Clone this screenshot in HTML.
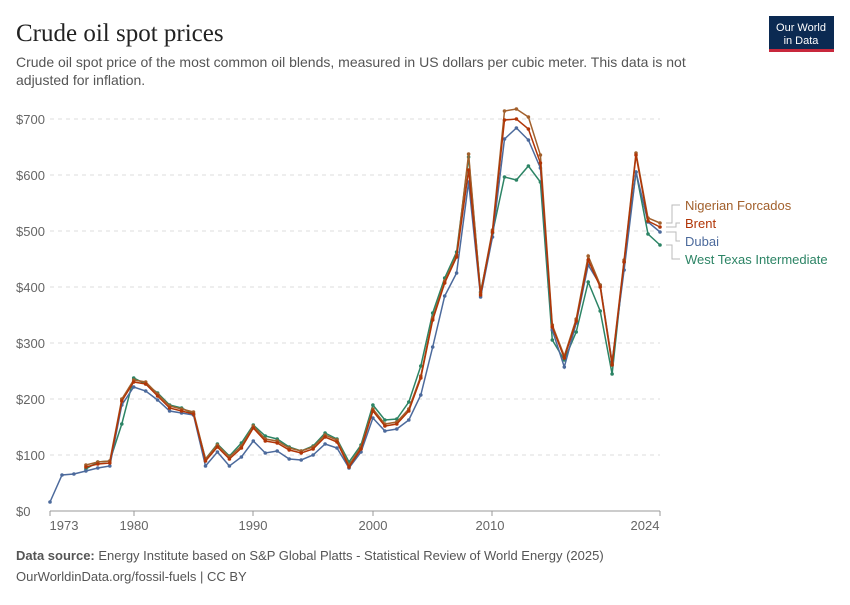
<!DOCTYPE html><html><head><style>
body{margin:0;width:850px;height:600px;background:#fff;font-family:"Liberation Sans",sans-serif;overflow:hidden}
</style></head><body>
<svg width="850" height="600" xmlns="http://www.w3.org/2000/svg" id="s">
<text x="16" y="41" font-family="Liberation Serif" font-size="25" fill="#222">Crude oil spot prices</text>
<text x="16" y="67" font-size="14" fill="#555">Crude oil spot price of the most common oil blends, measured in US dollars per cubic meter. This data is not</text>
<text x="16" y="85" font-size="14" fill="#555">adjusted for inflation.</text>
<rect x="769" y="16" width="65" height="36" fill="#0b2a52"/><rect x="769" y="49" width="65" height="3" fill="#c8283c"/>
<text x="801" y="31" font-size="11" fill="#fff" text-anchor="middle">Our World</text>
<text x="801" y="44" font-size="11" fill="#fff" text-anchor="middle">in Data</text>
<g id="grid" font-size="13" fill="#666"></g>
<line x1="50" y1="511" x2="660" y2="511" stroke="#999"/>
<g stroke="#999"><line x1="50" x2="50" y1="511" y2="516"/><line x1="134" x2="134" y1="511" y2="516"/><line x1="253" x2="253" y1="511" y2="516"/><line x1="373" x2="373" y1="511" y2="516"/><line x1="492" x2="492" y1="511" y2="516"/><line x1="660" x2="660" y1="511" y2="516"/></g>
<g font-size="13" fill="#666" text-anchor="middle">
<text x="64" y="530">1973</text><text x="134" y="530">1980</text><text x="253" y="530">1990</text><text x="373" y="530">2000</text><text x="490" y="530">2010</text><text x="645" y="530">2024</text></g>
<g id="lines"></g>
<g font-size="13">
<text x="685" y="210" fill="#a2602c">Nigerian Forcados</text>
<text x="685" y="228" fill="#b13507">Brent</text>
<text x="685" y="246" fill="#4c6a9c">Dubai</text>
<text x="685" y="264" fill="#2c8465">West Texas Intermediate</text></g>
<g stroke="#bbb" fill="none"><path d="M666 223H672V205H680"/><path d="M666 227H676V223H680"/><path d="M666 232H676V241H680"/><path d="M666 245H672V259H680"/></g>
<text x="16" y="560" font-size="13" fill="#555"><tspan font-weight="bold">Data source:</tspan> Energy Institute based on S&amp;P Global Platts - Statistical Review of World Energy (2025)</text>
<text x="16" y="581" font-size="13" fill="#555">OurWorldinData.org/fossil-fuels | CC BY</text>
</svg>
<script>
var ns="http://www.w3.org/2000/svg",g=document.getElementById('grid');
for(var i=0;i<=7;i++){var y=511-56*i;
if(i>0){var l=document.createElementNS(ns,'line');l.setAttribute('x1',50);l.setAttribute('x2',660);l.setAttribute('y1',y);l.setAttribute('y2',y);l.setAttribute('stroke','#ddd');l.setAttribute('stroke-dasharray','4,4');g.appendChild(l);}
var t=document.createElementNS(ns,'text');t.setAttribute('x',16);t.setAttribute('y',y+5);t.textContent='$'+(i*100);g.appendChild(t);}
function X(yr){return 50+(yr-1973)*11.96}
var brent=[467,464,463,401,382,384,396,408,411,414,461,447,459,448,428,441,443,450,453,449,437,442,467,449,411,426,424,411,378,320,283,257,170,295,232,120,119,129,163,327,358,321,260,287,365,262,155,221,227];
var nig=brent.map(function(v){return v-2});
var ov={2008:154,2011:111,2012:109,2013:117,2014:155,2018:256,2023:218,2024:223};
for(var k in ov)nig[k-1976]=ov[k];
var wti=[469,462,461,424,378,384,393,405,408,414,459,444,456,443,425,436,439,447,451,446,433,439,462,445,405,420,419,402,366,313,278,252,157,292,233,177,180,166,182,340,360,332,282,311,374,262,172,234,245];
var dub=[502,475,474,471,468,466,405,387,391,400,411,413,415,466,452,466,457,441,453,451,459,460,455,444,448,468,452,418,431,429,420,395,347,296,273,182,297,237,139,128,140,168,330,367,323,265,285,362,270,172,222,232];
var series=[[wti,1976,'#2c8465'],[dub,1973,'#4c6a9c'],[nig,1976,'#a2602c'],[brent,1976,'#b13507']];
var L=document.getElementById('lines');
series.forEach(function(s){var pts=s[0].map(function(v,i){return X(s[1]+i).toFixed(1)+','+v});
var p=document.createElementNS(ns,'polyline');p.setAttribute('points',pts.join(' '));p.setAttribute('fill','none');p.setAttribute('stroke',s[2]);p.setAttribute('stroke-width',1.5);L.appendChild(p);
pts.forEach(function(q){var c=document.createElementNS(ns,'circle');var a=q.split(',');c.setAttribute('cx',a[0]);c.setAttribute('cy',a[1]);c.setAttribute('r',1.8);c.setAttribute('fill',s[2]);L.appendChild(c);});});
</script>
</body></html>
